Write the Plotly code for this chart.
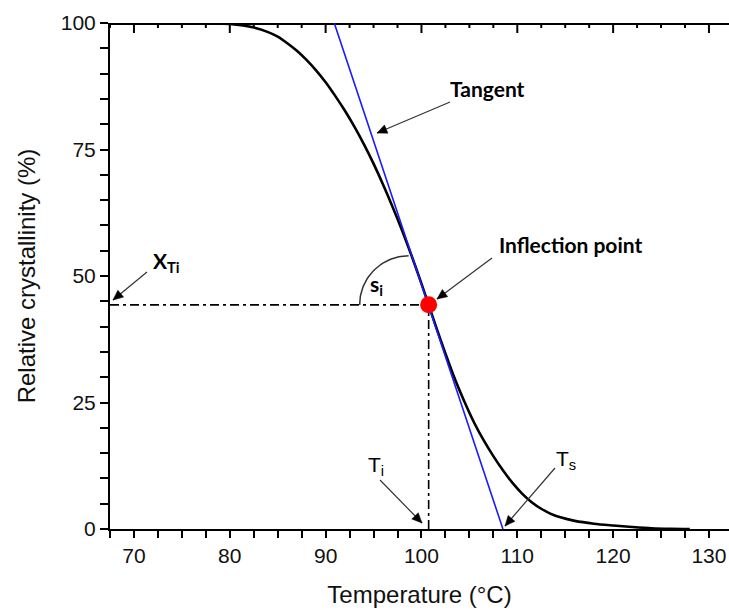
import numpy as np
import plotly.graph_objects as go

# ---- data ----
temperature = [75, 78, 80, 82.5, 84, 85, 86, 87, 88, 89, 90, 91, 92, 93, 94, 95, 96, 97, 98,
               99, 100, 100.75, 101.5, 102.5, 103.5, 104.5, 105.5, 106.5, 107.5, 108.5, 109.5,
               110.5, 111.5, 112.5, 113.5, 114.5, 116, 118, 120, 122, 124, 126, 128]
crystallinity = [100, 99.97, 99.8, 99.1, 98.2, 97.3, 96.0, 94.5, 92.7, 90.65, 88.3, 85.6, 82.7,
                 79.5, 76.0, 72.2, 68.05, 63.6, 58.9, 53.85, 48.5, 44.3, 40.1, 34.7, 29.6,
                 25.1, 21.0, 17.5, 14.4, 11.6, 9.1, 7.0, 5.3, 4.0, 3.0, 2.3, 1.6, 1.05, 0.7,
                 0.4, 0.15, 0.04, 0.0]
inflection_T = 100.75
inflection_X = 44.3
tangent_T = [90.9, 108.5]
tangent_X = [100, 0]
x_tick_start, x_tick_step, x_minor_step = 70, 10, 2.5
y_tick_start, y_tick_step, y_minor_step = 0, 25, 5

# ---- geometry ----
W, H = 729, 610
ML, MT, MB, MR = 110, 23, 81, 0
X0 = 67.5
PX_PER_T = 575 / 60.0
X1 = X0 + (W - ML - MR) / PX_PER_T
PX_PER_X = (H - MT - MB) / 100.0
Y0, Y1 = 0, 100


def px2T(px):
    return X0 + (px - ML) / PX_PER_T


def py2X(py):
    return (H - MB - py) / PX_PER_X


def is_major(v, start, step):
    q = (v - start) / step
    return abs(q - round(q)) < 1e-6


fig = go.Figure()

# ---- tick positions ----
x_all = [float(v) for v in np.arange(X0, X1 + 1e-9, x_minor_step)]
x_text = [f"{v:g}" if is_major(v, x_tick_start, x_tick_step) else "" for v in x_all]
y_all = [float(v) for v in np.arange(Y0, Y1 + 1e-9, y_minor_step)]
y_text = [f"{v:g}" if is_major(v, y_tick_start, y_tick_step) else "" for v in y_all]

# top frame line and inward-pointing top ticks, drawn through the axes
top_in = Y1 - 1 / PX_PER_X
fig.add_trace(go.Scatter(x=[X0, X1], y=[top_in, top_in], mode="lines",
                         line=dict(color="black", width=2),
                         hoverinfo="skip", showlegend=False))
tx, ty = [], []
for v, t in zip(x_all, x_text):
    ln = 10 if t else 5
    tx += [v, v, None]
    ty += [Y1, Y1 - ln / PX_PER_X, None]
fig.add_trace(go.Scatter(x=tx, y=ty, mode="lines", connectgaps=False,
                         line=dict(color="black", width=2),
                         hoverinfo="skip", showlegend=False))

dd = "9px,4px,3px,4px"
fig.add_trace(go.Scatter(x=[X0, inflection_T], y=[inflection_X, inflection_X], mode="lines",
                         line=dict(color="black", width=1.6, dash=dd),
                         hoverinfo="skip", showlegend=False))
fig.add_trace(go.Scatter(x=[inflection_T, inflection_T], y=[0, inflection_X], mode="lines",
                         line=dict(color="black", width=1.6, dash=dd),
                         hoverinfo="skip", showlegend=False))

# angle arc (quarter circle, pixel radius)
r = 49
cx = inflection_T - 20 / PX_PER_T
ang = np.linspace(np.pi, np.pi / 2, 40)
fig.add_trace(go.Scatter(x=cx + r * np.cos(ang) / PX_PER_T,
                         y=inflection_X + r * np.sin(ang) / PX_PER_X,
                         mode="lines", line=dict(color="#333", width=1.5),
                         hoverinfo="skip", showlegend=False))

fig.add_trace(go.Scatter(x=temperature, y=crystallinity, mode="lines",
                         line=dict(color="black", width=2.6, shape="spline", smoothing=0.8),
                         hoverinfo="skip", showlegend=False))
fig.add_trace(go.Scatter(x=tangent_T, y=tangent_X, mode="lines",
                         line=dict(color="#1a1aff", width=1.6),
                         hoverinfo="skip", showlegend=False))
fig.add_trace(go.Scatter(x=[inflection_T], y=[inflection_X], mode="markers",
                         marker=dict(color="#ff0000", size=17, line=dict(width=0)),
                         hoverinfo="skip", showlegend=False))

arrow_col = "#333333"


def arrow(tail_px, head_px):
    tx_, ty_ = tail_px
    hx, hy = head_px
    fig.add_shape(type="line", xref="x", yref="y",
                  x0=px2T(tx_), y0=py2X(ty_), x1=px2T(hx), y1=py2X(hy),
                  line=dict(color=arrow_col, width=1.2))
    d = np.array([hx - tx_, hy - ty_], float)
    d /= np.hypot(*d)
    n = np.array([-d[1], d[0]])
    L, hw = 10, 4.5
    base = np.array([hx, hy]) - d * L
    p1 = base + n * hw
    p2 = base - n * hw
    pts = [(hx, hy), tuple(p1), tuple(p2)]
    path = "M " + " L ".join(f"{px2T(a)},{py2X(b)}" for a, b in pts) + " Z"
    fig.add_shape(type="path", xref="x", yref="y", path=path,
                  fillcolor="black", line=dict(color="black", width=0.5))


def label(pos_px, txt, bold=True, size=20, family="Lato"):
    t = f"<b>{txt}</b>" if bold else txt
    fig.add_annotation(x=px2T(pos_px[0]), y=py2X(pos_px[1]), xref="x", yref="y",
                       text=t, showarrow=False,
                       font=dict(family=family, size=size, color="black"))


label((487, 88), "Tangent", size=21)
arrow((450, 102), (377, 133))
label((570, 244), "Inflection point", size=21)
arrow((492, 258), (437, 299))
label((166, 262), "X<sub>Ti</sub>", size=21)
arrow((147, 272), (113, 300))
label((376, 285), "s<sub>i</sub>", size=21)
label((376, 466), "T<sub>i</sub>", bold=False, size=21, family="Liberation Sans")
arrow((380, 480), (422, 523))
label((566, 460), "T<sub>s</sub>", bold=False, size=21, family="Liberation Sans")
arrow((555, 468), (505, 526))

axis_font = dict(family="Liberation Sans", size=21, color="#111")
title_font = dict(family="Liberation Sans", size=24, color="#111")

fig.update_layout(
    width=W, height=H,
    margin=dict(l=ML, r=MR, t=MT, b=MB, pad=0),
    paper_bgcolor="white", plot_bgcolor="white",
    xaxis=dict(range=[X0, X1], tickmode="array", tickvals=x_all, ticktext=x_text,
               ticks="outside", ticklen=7, tickwidth=2, tickcolor="black",
               showline=True, linewidth=2, linecolor="black",
               showgrid=False, zeroline=False, tickfont=axis_font,
               title=dict(text="Temperature (°C)", font=title_font, standoff=20)),
    yaxis=dict(range=[Y0, Y1], tickmode="array", tickvals=y_all, ticktext=y_text,
               ticks="outside", ticklen=8, tickwidth=2,
               tickcolor="black", showline=True, linewidth=2, linecolor="black",
               showgrid=False, zeroline=False, tickfont=axis_font,
               title=dict(text="Relative crystallinity (%)", font=title_font, standoff=18)),
)

fig.write_html("out.html")
